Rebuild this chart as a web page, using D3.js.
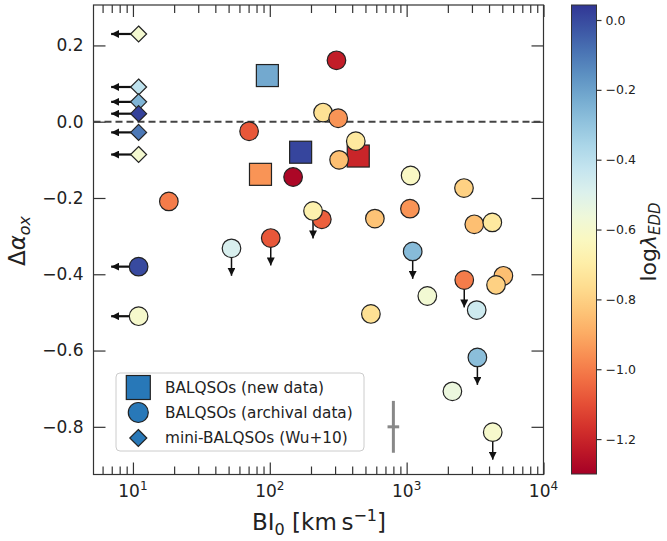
<!DOCTYPE html>
<html>
<head>
<meta charset="utf-8">
<script src="https://cdnjs.cloudflare.com/ajax/libs/d3/7.8.5/d3.min.js"></script>
<style>
  body { margin: 0; background: #fff; }
  text { font-family: "DejaVu Sans", sans-serif; fill: #222; }
</style>
</head>
<body>
<script>
// ---- data ----
// BALQSOs (new data) : squares
var newBI = [96, 85.5, 168, 443];
var newDaox = [0.121, -0.138, -0.080, -0.090];
var newLogEdd = [-0.22, -0.95, 0.01, -1.20];

// BALQSOs (archival data) : circles, limit = "left" (BI upper limit) / "down" (Daox upper limit)
var archBI = [11, 11, 70.6, 18.3, 307, 245, 316, 321, 425, 148, 1069, 2624, 240, 207, 586,
  1057, 3120, 4226, 1107, 2636, 5093, 4500, 1416, 3250, 548, 3288, 2159, 4256, 52.5, 101.6];
var archDaox = [-0.380, -0.510, -0.025, -0.209, 0.161, 0.024, 0.009, -0.100, -0.051, -0.145,
  -0.141, -0.174, -0.256, -0.234, -0.254, -0.228, -0.269, -0.264, -0.340, -0.415, -0.404,
  -0.428, -0.457, -0.494, -0.504, -0.618, -0.707, -0.814, -0.332, -0.305];
var archLogEdd = [0.0, -0.60, -1.08, -1.00, -1.22, -0.75, -0.95, -0.85, -0.72, -1.28,
  -0.62, -0.80, -1.06, -0.68, -0.84, -0.95, -0.85, -0.72, -0.27, -1.00, -0.85,
  -0.80, -0.58, -0.45, -0.75, -0.28, -0.55, -0.60, -0.48, -1.08];
var archLimit = ["left", "left", "", "", "", "", "", "", "", "",
  "", "", "", "down", "", "", "", "", "down", "down", "",
  "", "", "", "", "down", "", "down", "down", "down"];

// mini-BALQSOs (Wu+10) : diamonds, all BI upper limits
var miniBI = [11, 11, 11, 11, 11, 11];
var miniDaox = [0.230, 0.091, 0.052, 0.021, -0.028, -0.086];
var miniLogEdd = [-0.59, -0.41, -0.25, 0.02, -0.10, -0.59];

// typical error bar
var errBI = [725, 800, 882];
var errDaox = [-0.868, -0.80, -0.732];

// ticks
var xTicks = [10, 100, 1000, 10000];
var xTickExp = ["1", "2", "3", "4"];
var yTicks = [-0.8, -0.6, -0.4, -0.2, 0.0, 0.2];
var cbTicks = [-1.2, -1.0, -0.8, -0.6, -0.4, -0.2, 0.0];

// ---- layout ----
var W = 667, H = 541;
var plot = {left: 93.5, right: 543.5, top: 5, bottom: 474.5};
var cbar = {left: 571.5, right: 596.5, top: 5, bottom: 474};

var svg = d3.select("body").append("svg")
    .attr("width", W)
    .attr("height", H);

// scales
var x = d3.scaleLog().domain([5.15, 1e4]).range([plot.left, plot.right]);
var y = d3.scaleLinear().domain([-0.925, 0.306]).range([plot.bottom, plot.top]);
var cScale = d3.scaleLinear().domain([-1.3, 0.043]).range([cbar.bottom, cbar.top]);
function color(v) {
  return d3.interpolateRdYlBu((v + 1.3) / 1.343);
}

var minorX = [];
[1, 10, 100, 1000].forEach(function(dec) {
  for (var k = 2; k <= 9; k++) {
    if (dec * k > 5.15 && dec * k < 1e4) minorX.push(dec * k);
  }
});

var axisColor = "#333";

// ---- axes (ticks pointing inward) ----
function styleAxis(g) {
  g.select(".domain").remove();
  g.selectAll(".tick line").attr("stroke", axisColor).attr("stroke-width", 1.2);
}

// bottom
svg.append("g")
    .attr("transform", "translate(0," + plot.bottom + ")")
    .call(d3.axisBottom(x).tickValues(minorX).tickSize(-8).tickFormat(""))
    .call(styleAxis);
svg.append("g")
    .attr("transform", "translate(0," + plot.bottom + ")")
    .call(d3.axisBottom(x).tickValues(xTicks).tickSize(-12).tickFormat(""))
    .call(styleAxis);
// top
svg.append("g")
    .attr("transform", "translate(0," + plot.top + ")")
    .call(d3.axisTop(x).tickValues(minorX).tickSize(-8).tickFormat(""))
    .call(styleAxis);
svg.append("g")
    .attr("transform", "translate(0," + plot.top + ")")
    .call(d3.axisTop(x).tickValues(xTicks).tickSize(-12).tickFormat(""))
    .call(styleAxis);

// x tick labels 10^n
xTicks.forEach(function(t, i) {
  var lab = svg.append("text")
      .attr("x", x(t))
      .attr("y", 497)
      .attr("text-anchor", "middle")
      .style("font-size", "17px");
  lab.append("tspan").text("10");
  lab.append("tspan").attr("dy", -7).style("font-size", "12px").text(xTickExp[i]);
});

// left
svg.append("g")
    .attr("transform", "translate(" + plot.left + ",0)")
    .call(d3.axisLeft(y).tickValues(yTicks).tickSize(-12).tickPadding(10)
      .tickFormat(function(d) { return d3.format(".1f")(d).replace("-", "\u2212"); }))
    .call(styleAxis)
    .selectAll("text")
    .style("font-size", "17px")
    .style("font-family", "DejaVu Sans")
    .attr("fill", "#222");
// right
svg.append("g")
    .attr("transform", "translate(" + plot.right + ",0)")
    .call(d3.axisRight(y).tickValues(yTicks).tickSize(-12).tickFormat(""))
    .call(styleAxis);

// frame
svg.append("rect")
    .attr("x", plot.left)
    .attr("y", plot.top)
    .attr("width", plot.right - plot.left)
    .attr("height", plot.bottom - plot.top)
    .attr("fill", "none")
    .attr("stroke", axisColor)
    .attr("stroke-width", 1.2);

// zero line
svg.append("line")
    .attr("x1", plot.left).attr("x2", plot.right)
    .attr("y1", y(0)).attr("y2", y(0))
    .attr("stroke", "#444")
    .attr("stroke-width", 2)
    .attr("stroke-dasharray", "7,4");

// ---- arrow heads ----
var defs = svg.append("defs");
defs.append("marker")
    .attr("id", "head")
    .attr("markerUnits", "userSpaceOnUse")
    .attr("viewBox", "0 0 10 10")
    .attr("refX", 10).attr("refY", 5)
    .attr("markerWidth", 8).attr("markerHeight", 8)
    .attr("orient", "auto")
    .append("path")
    .attr("d", "M0,0L10,5L0,10Z")
    .attr("fill", "#111");

var arrowFactor = 0.63;   // BI upper-limit arrow length (x factor)
var arrowDy = 0.072;      // Daox upper-limit arrow length

var arrows = svg.append("g");
function addArrow(bi, d, dir, w) {
  var x2 = dir === "left" ? x(bi * arrowFactor) : x(bi);
  var y2 = dir === "down" ? y(d - arrowDy) : y(d);
  arrows.append("line")
      .attr("x1", x(bi)).attr("y1", y(d))
      .attr("x2", x2).attr("y2", y2)
      .attr("stroke", "#111")
      .attr("stroke-width", w)
      .attr("marker-end", "url(#head)");
}
archBI.forEach(function(b, i) {
  if (archLimit[i]) addArrow(b, archDaox[i], archLimit[i], archLimit[i] === "left" ? 2.2 : 1.5);
});
miniBI.forEach(function(b, i) { addArrow(b, miniDaox[i], "left", 2.2); });

// typical error bar
svg.append("line")
    .attr("x1", x(errBI[1])).attr("x2", x(errBI[1]))
    .attr("y1", y(errDaox[0])).attr("y2", y(errDaox[2]))
    .attr("stroke", "#888").attr("stroke-width", 3);
svg.append("line")
    .attr("x1", x(errBI[0])).attr("x2", x(errBI[2]))
    .attr("y1", y(errDaox[1])).attr("y2", y(errDaox[1]))
    .attr("stroke", "#888").attr("stroke-width", 3);

// ---- markers ----
var edge = "#222";
var sq = 22, rc = 9.3, dm = 8;

svg.append("g").selectAll("rect")
    .data(newBI)
    .enter().append("rect")
    .attr("x", function(d) { return x(d) - sq / 2; })
    .attr("y", function(d, i) { return y(newDaox[i]) - sq / 2; })
    .attr("width", sq).attr("height", sq)
    .attr("fill", function(d, i) { return color(newLogEdd[i]); })
    .attr("stroke", edge).attr("stroke-width", 1.2);

svg.append("g").selectAll("circle")
    .data(archBI)
    .enter().append("circle")
    .attr("cx", function(d) { return x(d); })
    .attr("cy", function(d, i) { return y(archDaox[i]); })
    .attr("r", rc)
    .attr("fill", function(d, i) { return color(archLogEdd[i]); })
    .attr("stroke", edge).attr("stroke-width", 1.2);

svg.append("g").selectAll("path")
    .data(miniBI)
    .enter().append("path")
    .attr("d", function(d, i) {
      var cx = x(d), cy = y(miniDaox[i]);
      return "M" + cx + "," + (cy - dm) + "L" + (cx + dm) + "," + cy +
        "L" + cx + "," + (cy + dm) + "L" + (cx - dm) + "," + cy + "Z";
    })
    .attr("fill", function(d, i) { return color(miniLogEdd[i]); })
    .attr("stroke", edge).attr("stroke-width", 1.2);

// ---- legend ----
var legend = svg.append("g");
legend.append("rect")
    .attr("x", 116).attr("y", 373)
    .attr("width", 248).attr("height", 78)
    .attr("rx", 4)
    .attr("fill", "#fff").attr("fill-opacity", 0.8)
    .attr("stroke", "#ccc");
var legBlue = "#2878b8";
var legLabels = ["BALQSOs (new data)", "BALQSOs (archival data)", "mini-BALQSOs (Wu+10)"];
var legY = [387.5, 412.5, 438];
legend.append("rect")
    .attr("x", 138.3 - 12).attr("y", legY[0] - 12)
    .attr("width", 24).attr("height", 24)
    .attr("fill", legBlue).attr("stroke", edge).attr("stroke-width", 1.2);
legend.append("circle")
    .attr("cx", 138.3).attr("cy", legY[1]).attr("r", 10)
    .attr("fill", legBlue).attr("stroke", edge).attr("stroke-width", 1.2);
legend.append("path")
    .attr("d", "M138.3," + (legY[2] - 8.5) + "L146.8," + legY[2] + "L138.3," + (legY[2] + 8.5) +
      "L129.8," + legY[2] + "Z")
    .attr("fill", legBlue).attr("stroke", edge).attr("stroke-width", 1.2);
legLabels.forEach(function(t, i) {
  legend.append("text")
      .attr("x", 165).attr("y", legY[i])
      .attr("dy", "0.35em")
      .style("font-size", "15.3px")
      .text(t);
});

// ---- axis labels ----
var xl = svg.append("text")
    .attr("x", 319).attr("y", 530)
    .attr("text-anchor", "middle")
    .style("font-size", "23px");
xl.append("tspan").text("BI");
xl.append("tspan").attr("dy", 5).style("font-size", "16px").text("0");
xl.append("tspan").attr("dy", -5).text(" [km\u2009s");
xl.append("tspan").attr("dy", -9).style("font-size", "16px").text("\u22121");
xl.append("tspan").attr("dy", 9).text("]");

var yl = svg.append("text")
    .attr("transform", "translate(25,241) rotate(-90)")
    .attr("text-anchor", "middle")
    .style("font-size", "23px");
yl.append("tspan").text("\u0394");
yl.append("tspan").style("font-style", "italic").text("\u03b1");
yl.append("tspan").attr("dy", 5).style("font-size", "16px").style("font-style", "italic").text("ox");

// ---- colorbar ----
var grad = defs.append("linearGradient")
    .attr("id", "cbgrad")
    .attr("x1", 0).attr("y1", 1).attr("x2", 0).attr("y2", 0);
d3.range(0, 21).forEach(function(i) {
  grad.append("stop")
      .attr("offset", i / 20)
      .attr("stop-color", d3.interpolateRdYlBu(i / 20));
});
svg.append("rect")
    .attr("x", cbar.left).attr("y", cbar.top)
    .attr("width", cbar.right - cbar.left)
    .attr("height", cbar.bottom - cbar.top)
    .attr("fill", "url(#cbgrad)")
    .attr("stroke", axisColor).attr("stroke-width", 1);

svg.append("g")
    .attr("transform", "translate(" + cbar.right + ",0)")
    .call(d3.axisRight(cScale).tickValues(cbTicks).tickSize(5).tickPadding(4)
      .tickFormat(function(d) { return d3.format(".1f")(d).replace("-", "\u2212"); }))
    .call(styleAxis)
    .selectAll("text")
    .style("font-size", "12.5px")
    .style("font-family", "DejaVu Sans")
    .attr("fill", "#222");

var cl = svg.append("text")
    .attr("transform", "translate(656,242) rotate(-90)")
    .attr("text-anchor", "middle")
    .style("font-size", "22px");
cl.append("tspan").text("log");
cl.append("tspan").style("font-style", "italic").text("\u03bb");
cl.append("tspan").attr("dy", 4).style("font-size", "15px").style("font-style", "italic").text("EDD");
</script>
</body>
</html>
